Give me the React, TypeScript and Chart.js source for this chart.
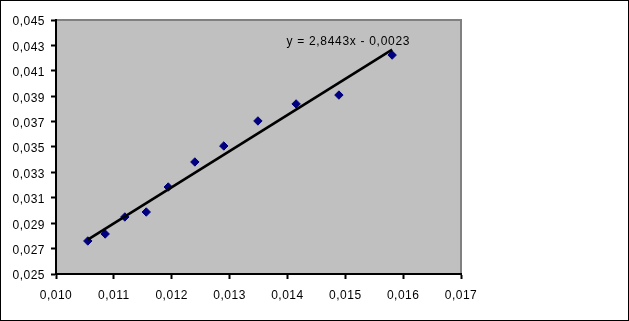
import React, { useEffect, useRef } from "react";
import { Chart, registerables } from "chart.js";

Chart.register(...registerables);

const xValues = [0.01055, 0.01085, 0.01119, 0.01156, 0.01194, 0.0124, 0.0129, 0.01349, 0.01415, 0.01489, 0.01581];
const yValues = [0.0276, 0.02815, 0.02949, 0.02988, 0.03185, 0.03382, 0.03508, 0.03705, 0.03839, 0.03909, 0.04224];
const slope = 2.8443;
const intercept = -0.0023;
const equationLabel = "y = 2,8443x - 0,0023";
const xTicks = [0.01, 0.011, 0.012, 0.013, 0.014, 0.015, 0.016, 0.017];
const yTicks = [0.025, 0.027, 0.029, 0.031, 0.033, 0.035, 0.037, 0.039, 0.041, 0.043, 0.045];

const fmt = (v: number) => v.toFixed(3).replace(".", ",");
const FONT = "'Liberation Sans', Arial, sans-serif";

export default function App() {
  const ref = useRef<HTMLCanvasElement>(null);
  useEffect(() => {
    if (!ref.current) return;
    const ctx0 = ref.current.getContext("2d") as any;
    if (ctx0) ctx0.letterSpacing = "0.5px";
    const xMin = Math.min(...xValues);
    const xMax = Math.max(...xValues);
    const bgPlugin = {
      id: "bg",
      beforeInit(chart: any) {
        chart.ctx.letterSpacing = "0.5px";
      },
      beforeDraw(chart: any) {
        const { ctx, chartArea: a, width, height } = chart;
        ctx.letterSpacing = "0.5px";
        ctx.save();
        ctx.fillStyle = "#ffffff";
        ctx.fillRect(0, 0, width, height);
        ctx.strokeStyle = "#000000";
        ctx.lineWidth = 1;
        ctx.strokeRect(0.5, 0.5, width - 1, height - 1);
        ctx.fillStyle = "#C0C0C0";
        ctx.fillRect(a.left, a.top, a.right - a.left, a.bottom - a.top);
        ctx.strokeStyle = "#808080";
        ctx.lineWidth = 2;
        ctx.beginPath();
        ctx.moveTo(a.left, a.top);
        ctx.lineTo(a.right, a.top);
        ctx.lineTo(a.right, a.bottom);
        ctx.stroke();
        ctx.restore();
      },
      afterDatasetsDraw(chart: any) {
        const { ctx } = chart;
        const xs = chart.scales.x;
        const ys = chart.scales.y;
        const px = xs.getPixelForValue(xMax);
        const py = ys.getPixelForValue(slope * xMax + intercept);
        ctx.save();
        ctx.font = "12px " + FONT;
        ctx.letterSpacing = "0.7px";
        ctx.fillStyle = "#000000";
        ctx.textAlign = "right";
        ctx.textBaseline = "middle";
        ctx.fillText(equationLabel, px + 18, py - 8);
        ctx.restore();
      },
    };
    const chart = new Chart(ref.current, {
      type: "scatter",
      data: {
        datasets: [
          {
            label: "trend",
            data: [
              { x: xMin, y: slope * xMin + intercept },
              { x: xMax, y: slope * xMax + intercept },
            ],
            showLine: true,
            borderColor: "#000000",
            borderWidth: 2.6,
            pointRadius: 0,
          },
          {
            label: "data",
            data: xValues.map((x, i) => ({ x, y: yValues[i] })),
            pointStyle: "rectRot",
            pointRadius: 4.2,
            backgroundColor: "#000080",
            borderColor: "#000080",
            borderWidth: 1,
          },
        ],
      },
      options: {
        responsive: false,
        animation: false,
        events: [],
        layout: { padding: { top: 20, right: 168, left: 0, bottom: 0 } },
        plugins: { legend: { display: false }, tooltip: { enabled: false } },
        scales: {
          x: {
            type: "linear",
            min: 0.01,
            max: 0.017,
            afterBuildTicks: (s: any) => {
              s.ticks = xTicks.map((v) => ({ value: v }));
            },
            afterFit: (s: any) => {
              s.height = 47;
            },
            border: { color: "#000000", width: 2 },
            grid: { drawOnChartArea: false, tickLength: 5, tickColor: "#000000", tickWidth: 2 },
            ticks: {
              color: "#000000",
              font: { family: FONT, size: 12 },
              padding: 9,
              maxRotation: 0,
              callback: (v: any) => fmt(Number(v)),
            },
          },
          y: {
            type: "linear",
            min: 0.025,
            max: 0.045,
            afterBuildTicks: (s: any) => {
              s.ticks = yTicks.map((v) => ({ value: v }));
            },
            afterFit: (s: any) => {
              s.width = 56;
            },
            border: { color: "#000000", width: 2 },
            grid: { drawOnChartArea: false, tickLength: 5, tickColor: "#000000", tickWidth: 2 },
            ticks: {
              color: "#000000",
              font: { family: FONT, size: 12 },
              padding: 6,
              labelOffset: 2,
              callback: (v: any) => fmt(Number(v)),
            },
          },
        },
      },
      plugins: [bgPlugin],
    } as any);
    return () => chart.destroy();
  }, []);
  return (
    <div style={{ position: "absolute", left: 0, top: 0, width: 629, height: 321 }}>
      <canvas ref={ref} width={629} height={321} style={{ width: 629, height: 321, display: "block" }} />
    </div>
  );
}
